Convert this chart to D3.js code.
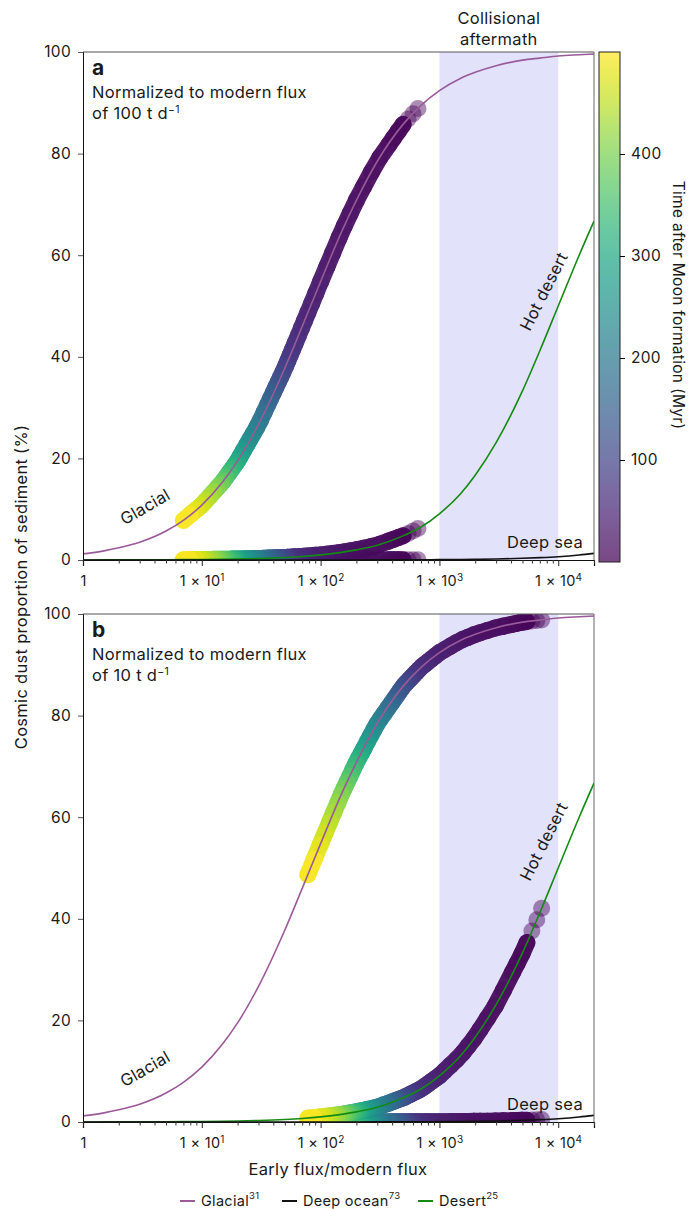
<!DOCTYPE html>
<html><head><meta charset="utf-8">
<script src="https://cdn.jsdelivr.net/npm/d3@7"></script>
<style>
body{margin:0;background:#fff}
svg text{font-family:Inter, "Open Sans", sans-serif; fill:#1a1a1a; letter-spacing:0.3px}
</style>
</head><body>
<svg id="chart" width="689" height="1209"></svg>
<script>
// ---------------- data ----------------
// smooth model curves (x = early flux / modern flux, y = % cosmic dust)
const curveX      = [1, 1.5, 2, 3, 5, 7, 10, 15, 20, 30, 50, 70, 100, 150, 200, 300, 500, 700, 1000, 1500, 2000, 3000, 5000, 7000, 10000, 15000, 20000];
const glacialPct  = [1.2, 1.8, 2.4, 3.5, 5.7, 7.8, 10.8, 15.4, 19.5, 26.7, 37.8, 46.0, 54.8, 64.6, 70.8, 78.5, 85.9, 89.5, 92.4, 94.8, 96.0, 97.3, 98.4, 98.8, 99.2, 99.45, 99.6];
const deepSeaPct  = [0, 0, 0, 0, 0, 0, 0.001, 0.001, 0.001, 0.002, 0.003, 0.005, 0.007, 0.01, 0.013, 0.02, 0.033, 0.046, 0.065, 0.098, 0.13, 0.195, 0.33, 0.46, 0.65, 0.98, 1.3];
const desertPct   = [0.01, 0.015, 0.02, 0.03, 0.05, 0.07, 0.1, 0.15, 0.2, 0.3, 0.5, 0.7, 1.0, 1.5, 2.0, 2.9, 4.8, 6.5, 9.1, 13.0, 16.7, 23.1, 33.3, 41.2, 50.0, 60.0, 66.7];

// flux history: time after Moon formation (Myr) and early/modern flux ratio in each panel
const timeMyr    = [0, 1, 2, 3, 4, 5, 6, 8, 10, 12, 14, 16, 18, 20, 23, 26, 30, 34, 38, 42, 46, 50, 55, 60, 65, 70, 75, 80, 90, 100, 110, 120, 130, 140, 150, 165, 180, 195, 210, 225, 240, 255, 270, 285, 300, 315, 330, 345, 360, 375, 390, 405, 420, 435, 450, 465, 480, 495];
const fluxRatioA = [660, 600, 545, 495, 450, 410, 375, 315, 268, 230, 200, 177, 158, 143, 126, 113, 100, 91, 84, 78, 73, 69, 65, 61, 58, 55.5, 53, 51, 48, 46, 44, 42, 40, 38, 36, 33.5, 31, 29, 27, 25.5, 24, 22.5, 21, 20, 19, 18, 17, 16, 15.2, 14.4, 13.5, 12.6, 11.7, 10.8, 9.9, 9.0, 8.0, 7.0];
const fluxRatioB = [7250, 6600, 6000, 5450, 4950, 4500, 4120, 3460, 2950, 2530, 2200, 1950, 1740, 1570, 1390, 1240, 1100, 1000, 924, 858, 803, 759, 715, 671, 638, 610, 583, 561, 528, 506, 484, 462, 440, 418, 396, 368, 341, 319, 297, 280, 264, 248, 231, 220, 209, 198, 187, 176, 167, 158, 149, 139, 129, 119, 109, 99, 88, 78];

const xDomain     = [1, 20000];
const xMajorTicks = [1, 10, 100, 1000, 10000];
const yTicks      = [0, 20, 40, 60, 80, 100];
const cbarDomain  = [0, 500];
const cbarTicks   = [100, 200, 300, 400];
const shadeRange  = [1000, 10000];
const panelLetters = ["a", "b"];
const panelNorms   = ["100", "10"];
const legendNames  = ["Glacial", "Deep ocean", "Desert"];
const legendRefs   = ["31", "73", "25"];

// ---------------- drawing ----------------
const svg = d3.select("#chart");
const colGlacial = "#9a5a9a", colDeep = "#111111", colDesert = "#148a14";
const L = 83, R = 594;
const panels = [
  {top: 52, bottom: 560, ratios: fluxRatioA, desertLabelDy: 242},
  {top: 614, bottom: 1122, ratios: fluxRatioB, desertLabelDy: 230}
];
const x = d3.scaleLog().domain(xDomain).range([L, R]);
const color = d3.scaleSequential(d3.interpolateViridis).domain(cbarDomain);

const toGlacial = d3.scaleLog().domain(curveX).range(glacialPct);
const toDeep    = d3.scaleLog().domain(curveX).range(deepSeaPct);
const toDesert  = d3.scaleLog().domain(curveX).range(desertPct);

const minorTicks = [];
for (let d = 0; d <= 4; d++) for (let k = 2; k <= 9; k++) { const v = k * Math.pow(10, d); if (v <= xDomain[1]) minorTicks.push(v); }

const defs = svg.append("defs");
const tickFont = 15.5, noteFont = 16.5;

panels.forEach((p, pi) => {
  const y = d3.scaleLinear().domain([0, 100]).range([p.bottom, p.top]);
  const g = svg.append("g");
  const clipId = "clip" + pi;
  defs.append("clipPath").attr("id", clipId).append("rect")
    .attr("x", L).attr("y", p.top).attr("width", R - L).attr("height", p.bottom - p.top);

  // shaded collisional aftermath
  g.append("rect").attr("x", x(shadeRange[0])).attr("y", p.top)
    .attr("width", x(shadeRange[1]) - x(shadeRange[0])).attr("height", p.bottom - p.top)
    .attr("fill", "#e2e2fb");

  // dots (scatter of flux history on each environment's curve)
  const dg = g.append("g").attr("clip-path", `url(#${clipId})`);
  const pts = timeMyr.map((t, i) => ({t, r: p.ratios[i]}));
  [toDeep, toDesert, toGlacial].forEach(map => {
    dg.append("g").selectAll("circle").data(pts).join("circle")
      .attr("cx", d => x(d.r)).attr("cy", d => y(map(d.r))).attr("r", 8.5)
      .attr("fill", d => color(d.t)).attr("fill-opacity", 0.45);
    // dense overlap of the markers renders as a continuous band
    const seg = pts.slice(3);
    dg.append("g").attr("opacity", 0.93).selectAll("line").data(d3.pairs(seg)).join("line")
      .attr("x1", d => x(d[0].r)).attr("y1", d => y(map(d[0].r)))
      .attr("x2", d => x(d[1].r)).attr("y2", d => y(map(d[1].r)))
      .attr("stroke", d => color(d[1].t)).attr("stroke-width", 17).attr("stroke-linecap", "round");
  });

  // curves
  const lg = g.append("g").attr("clip-path", `url(#${clipId})`);
  [[glacialPct, colGlacial], [desertPct, colDesert], [deepSeaPct, colDeep]].forEach(([vals, c]) => {
    const line = d3.line().x((d, i) => x(curveX[i])).y(d => y(d)).curve(d3.curveMonotoneX);
    lg.append("path").attr("d", line(vals)).attr("fill", "none").attr("stroke", c).attr("stroke-width", 1.6);
  });

  // frame
  g.append("line").attr("x1", L).attr("x2", R).attr("y1", p.top).attr("y2", p.top).attr("stroke", "#555").attr("stroke-width", 1);
  g.append("line").attr("x1", R).attr("x2", R).attr("y1", p.top).attr("y2", p.bottom).attr("stroke", "#666").attr("stroke-width", 1);

  // y axis
  const ya = g.append("g").attr("transform", `translate(${L},0)`)
    .call(d3.axisLeft(y).tickValues(yTicks).tickSize(5).tickPadding(7));
  ya.select(".domain").attr("stroke", "#111");
  ya.selectAll(".tick line").attr("stroke", "#555");
  ya.selectAll("text").attr("font-size", tickFont).style("fill", "#1a1a1a");

  // x axis
  const xa = g.append("g").attr("transform", `translate(0,${p.bottom})`)
    .call(d3.axisBottom(x).tickValues(xMajorTicks).tickSize(6).tickPadding(5).tickFormat(""));
  xa.select(".domain").attr("stroke", "#111").attr("stroke-width", 1.2);
  xa.selectAll(".tick line").attr("stroke", "#222");
  xa.selectAll(".tick text").each(function(d) {
    const t = d3.select(this).attr("font-size", 14.5).style("fill", "#1a1a1a").attr("dy", "1.05em");
    const e = Math.round(Math.log10(d));
    if (e === 0) { t.text("1"); return; }
    t.append("tspan").text("1 × 10");
    t.append("tspan").text(e).attr("font-size", 10).attr("dy", "-0.55em");
  });
  const xm = g.append("g").attr("transform", `translate(0,${p.bottom})`)
    .call(d3.axisBottom(x).tickValues(minorTicks).tickSize(3.5).tickFormat(""));
  xm.select(".domain").remove();
  xm.selectAll(".tick line").attr("stroke", "#333");

  // panel annotations
  g.append("text").attr("x", 92).attr("y", p.top + 23).attr("font-size", 21).attr("font-weight", "bold").text(panelLetters[pi]);
  g.append("text").attr("x", 92).attr("y", p.top + 46).attr("font-size", noteFont).text("Normalized to modern flux");
  const t2 = g.append("text").attr("x", 92).attr("y", p.top + 67).attr("font-size", noteFont);
  t2.append("tspan").text("of " + panelNorms[pi] + " t d");
  t2.append("tspan").text("−1").attr("font-size", 10.5).attr("dy", "-0.6em");

  g.append("text").attr("transform", `translate(148,${p.bottom - 48}) rotate(-30)`)
    .attr("text-anchor", "middle").attr("font-size", noteFont).text("Glacial");
  g.append("text").attr("transform", `translate(549,${p.top + p.desertLabelDy}) rotate(-63)`)
    .attr("text-anchor", "middle").attr("font-size", noteFont).text("Hot desert");
  g.append("text").attr("x", 545).attr("y", p.bottom - 12)
    .attr("text-anchor", "middle").attr("font-size", noteFont).text("Deep sea");
});

// collisional aftermath label
const cx = (x(shadeRange[0]) + x(shadeRange[1])) / 2;
svg.append("text").attr("x", cx).attr("y", 24).attr("text-anchor", "middle").attr("font-size", noteFont).text("Collisional");
svg.append("text").attr("x", cx).attr("y", 45).attr("text-anchor", "middle").attr("font-size", noteFont).text("aftermath");

// axis titles
svg.append("text").attr("transform", "translate(27,587) rotate(-90)").attr("text-anchor", "middle")
  .attr("font-size", 16.5).text("Cosmic dust proportion of sediment (%)");
svg.append("text").attr("x", 338).attr("y", 1175).attr("text-anchor", "middle").attr("font-size", 16.5).text("Early flux/modern flux");

// colorbar
const cb = d3.scaleLinear().domain(cbarDomain).range([562, 52]);
const grad = defs.append("linearGradient").attr("id", "vir").attr("x1", 0).attr("x2", 0).attr("y1", 1).attr("y2", 0);
d3.range(0, 1.0001, 0.05).forEach(s => grad.append("stop").attr("offset", s)
  .attr("stop-color", color(cbarDomain[0] + s * (cbarDomain[1] - cbarDomain[0]))).attr("stop-opacity", 0.72));
svg.append("rect").attr("x", 599).attr("y", cb(cbarDomain[1])).attr("width", 21)
  .attr("height", cb(cbarDomain[0]) - cb(cbarDomain[1])).attr("fill", "url(#vir)").attr("stroke", "#222").attr("stroke-width", 1);
const ca = svg.append("g").attr("transform", "translate(620,0)")
  .call(d3.axisRight(cb).tickValues(cbarTicks).tickSize(5).tickPadding(6));
ca.select(".domain").remove();
ca.selectAll("text").attr("font-size", tickFont).style("fill", "#1a1a1a");
svg.append("text").attr("transform", "translate(673,305) rotate(90)").attr("text-anchor", "middle")
  .attr("font-size", 15.5).text("Time after Moon formation (Myr)");

// legend
const legendX = [180, 282, 418];
const legendCols = [colGlacial, colDeep, colDesert];
legendNames.forEach((n, i) => {
  svg.append("line").attr("x1", legendX[i]).attr("x2", legendX[i] + 15).attr("y1", 1201).attr("y2", 1201)
    .attr("stroke", legendCols[i]).attr("stroke-width", 2);
  const t = svg.append("text").attr("x", legendX[i] + 21).attr("y", 1206).attr("font-size", 14.5);
  t.append("tspan").text(n);
  t.append("tspan").text(legendRefs[i]).attr("font-size", 9.5).attr("dy", "-0.7em");
});
</script>
</body></html>
